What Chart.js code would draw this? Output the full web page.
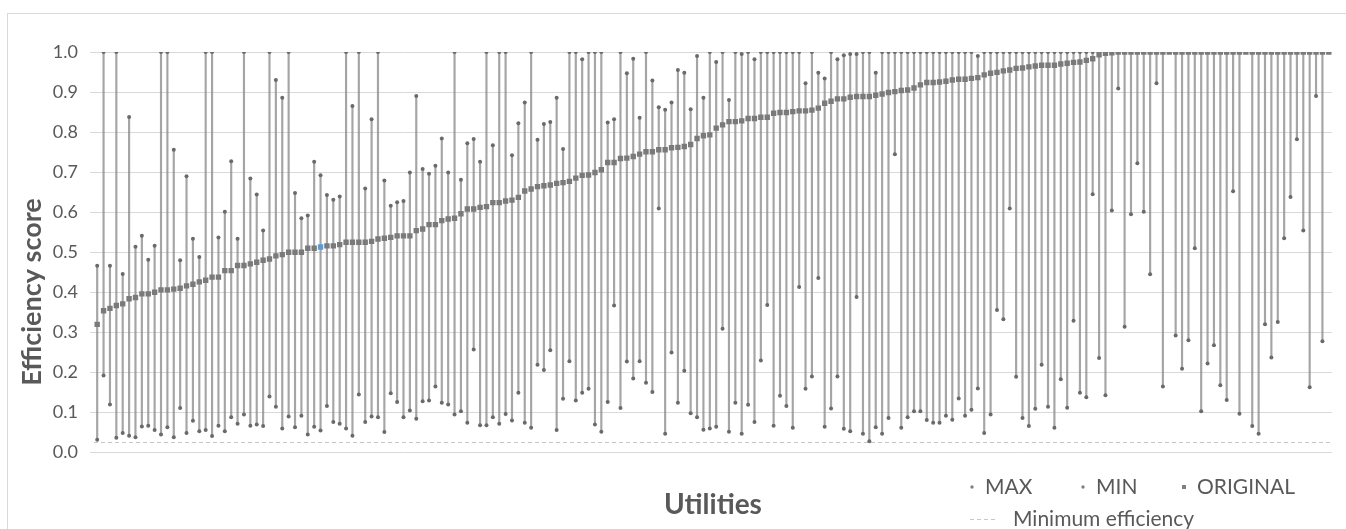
<!DOCTYPE html>
<html>
<head>
<meta charset="utf-8">
<script src="https://cdn.jsdelivr.net/npm/chart.js@4/dist/chart.umd.min.js"></script>
<style>
  html, body { margin: 0; padding: 0; background: #ffffff; }
  #wrap { position: relative; width: 1346px; height: 529px; }
</style>
</head>
<body>
<div id="wrap"><canvas id="chart" width="1346" height="529"></canvas></div>
<script>
// Efficiency scores per utility: upper bound, lower bound and original score
const maxValues = [
  0.466, 1.0, 0.466, 1.0, 0.446, 0.838, 0.514, 0.541, 0.481, 0.516,
  1.0, 1.0, 0.756, 0.48, 0.69, 0.534, 0.488, 1.0, 1.0, 0.537,
  0.601, 0.727, 0.534, 1.0, 0.684, 0.644, 0.554, 1.0, 0.93, 0.886,
  1.0, 0.648, 0.585, 0.592, 0.726, 0.692, 0.643, 0.631, 0.639, 1.0,
  0.865, 1.0, 0.659, 0.832, 1.0, 0.679, 0.616, 0.625, 0.628, 0.699,
  0.89, 0.708, 0.696, 0.716, 0.784, 0.699, 1.0, 0.681, 0.772, 0.783,
  0.726, 1.0, 0.767, 1.0, 1.0, 0.742, 0.822, 0.874, 1.0, 0.781,
  0.82, 0.825, 0.886, 0.758, 1.0, 1.0, 0.982, 1.0, 1.0, 1.0,
  0.824, 0.832, 1.0, 0.947, 0.983, 0.836, 1.0, 0.929, 0.862, 0.856,
  0.874, 0.955, 0.948, 0.857, 0.99, 0.886, 1.0, 0.975, 1.0, 0.88,
  1.0, 0.995, 1.0, 0.982, 1.0, 1.0, 1.0, 1.0, 1.0, 1.0,
  1.0, 0.922, 1.0, 0.948, 0.934, 1.0, 0.982, 0.992, 0.995, 0.995,
  1.0, 1.0, 0.948, 1.0, 1.0, 1.0, 1.0, 1.0, 1.0, 1.0,
  1.0, 1.0, 1.0, 1.0, 1.0, 1.0, 1.0, 1.0, 0.99, 1.0,
  1.0, 1.0, 1.0, 1.0, 1.0, 1.0, 1.0, 1.0, 1.0, 1.0,
  1.0, 1.0, 1.0, 1.0, 1.0, 1.0, 1.0, 1.0, 1.0, 1.0,
  1.0, 1.0, 1.0, 1.0, 1.0, 1.0, 1.0, 1.0, 1.0, 1.0,
  1.0, 1.0, 1.0, 1.0, 1.0, 1.0, 1.0, 1.0, 1.0, 1.0,
  1.0, 1.0, 1.0, 1.0, 1.0, 1.0, 1.0, 1.0, 1.0, 1.0,
  1.0, 1.0, 1.0, 1.0
];

const minValues = [
  0.032, 0.192, 0.12, 0.037, 0.049, 0.042, 0.038, 0.065, 0.067, 0.056,
  0.045, 0.063, 0.038, 0.111, 0.049, 0.079, 0.053, 0.056, 0.041, 0.067,
  0.053, 0.088, 0.072, 0.095, 0.067, 0.07, 0.066, 0.14, 0.114, 0.06,
  0.09, 0.063, 0.092, 0.045, 0.064, 0.055, 0.116, 0.076, 0.072, 0.06,
  0.042, 0.145, 0.076, 0.09, 0.088, 0.051, 0.148, 0.126, 0.088, 0.105,
  0.084, 0.128, 0.13, 0.165, 0.124, 0.12, 0.095, 0.103, 0.074, 0.257,
  0.068, 0.068, 0.088, 0.072, 0.096, 0.08, 0.149, 0.074, 0.062, 0.219,
  0.206, 0.255, 0.056, 0.134, 0.228, 0.13, 0.149, 0.159, 0.07, 0.052,
  0.126, 0.367, 0.111, 0.227, 0.185, 0.228, 0.174, 0.151, 0.609, 0.047,
  0.25, 0.124, 0.204, 0.098, 0.088, 0.057, 0.06, 0.064, 0.309, 0.052,
  0.124, 0.047, 0.119, 0.076, 0.23, 0.368, 0.067, 0.142, 0.116, 0.062,
  0.413, 0.159, 0.19, 0.436, 0.064, 0.11, 0.19, 0.059, 0.053, 0.388,
  0.047, 0.028, 0.063, 0.047, 0.086, 0.745, 0.062, 0.088, 0.103, 0.103,
  0.081, 0.074, 0.074, 0.092, 0.082, 0.135, 0.092, 0.107, 0.16, 0.049,
  0.095, 0.356, 0.333, 0.609, 0.189, 0.086, 0.066, 0.109, 0.219, 0.114,
  0.062, 0.183, 0.112, 0.329, 0.149, 0.138, 0.645, 0.236, 0.143, 0.604,
  0.909, 0.314, 0.595, 0.722, 0.601, 0.445, 0.922, 0.165, 1.0, 0.292,
  0.209, 0.28, 0.51, 0.103, 0.222, 0.268, 0.168, 0.131, 0.652, 0.097,
  1.0, 0.066, 0.047, 0.32, 0.237, 0.326, 0.535, 0.638, 0.782, 0.554,
  0.163, 0.89, 0.278, 1.0
];

const originalValues = [
  0.32, 0.354, 0.36, 0.367, 0.371, 0.384, 0.387, 0.396, 0.396, 0.40,
  0.406, 0.406, 0.408, 0.41, 0.416, 0.42, 0.426, 0.43, 0.438, 0.438,
  0.454, 0.454, 0.467, 0.467, 0.471, 0.475, 0.48, 0.483, 0.491, 0.494,
  0.5, 0.5, 0.5, 0.51, 0.51, 0.513, 0.516, 0.516, 0.519, 0.525,
  0.525, 0.525, 0.525, 0.527, 0.533, 0.535, 0.537, 0.541, 0.541, 0.541,
  0.554, 0.558, 0.569, 0.569, 0.579, 0.583, 0.585, 0.596, 0.608, 0.608,
  0.612, 0.614, 0.624, 0.624, 0.628, 0.63, 0.637, 0.653, 0.658, 0.664,
  0.666, 0.668, 0.672, 0.674, 0.677, 0.685, 0.692, 0.693, 0.699, 0.706,
  0.724, 0.724, 0.734, 0.735, 0.739, 0.745, 0.751, 0.751, 0.756, 0.756,
  0.761, 0.762, 0.764, 0.769, 0.784, 0.791, 0.793, 0.81, 0.818, 0.826,
  0.826, 0.828, 0.834, 0.834, 0.837, 0.837, 0.847, 0.849, 0.849, 0.851,
  0.853, 0.853, 0.855, 0.86, 0.872, 0.877, 0.883, 0.883, 0.887, 0.889,
  0.889, 0.889, 0.892, 0.895, 0.899, 0.901, 0.904, 0.905, 0.91, 0.918,
  0.924, 0.924, 0.925, 0.927, 0.93, 0.932, 0.932, 0.934, 0.936, 0.943,
  0.947, 0.949, 0.953, 0.955, 0.959, 0.96, 0.963, 0.965, 0.967, 0.967,
  0.967, 0.97, 0.972, 0.974, 0.975, 0.979, 0.983, 0.993, 0.997, 0.998,
  1.0, 1.0, 1.0, 1.0, 1.0, 1.0, 1.0, 1.0, 1.0, 1.0,
  1.0, 1.0, 1.0, 1.0, 1.0, 1.0, 1.0, 1.0, 1.0, 1.0,
  1.0, 1.0, 1.0, 1.0, 1.0, 1.0, 1.0, 1.0, 1.0, 1.0,
  1.0, 1.0, 1.0, 1.0
];

// One category per utility, numbered in order of the original score
const utilities = originalValues.map((_, i) => String(i + 1));

const yTicks = [0.0, 0.1, 0.2, 0.3, 0.4, 0.5, 0.6, 0.7, 0.8, 0.9, 1.0];
const minimumEfficiency = 0.025;
const highlightedUtility = 35;

const TEXT = '#595959';
const FONT = 'Lato, "Open Sans", sans-serif';

// Floating bars give the thin min-to-max range line of each utility
const ranges = minValues.map((lo, i) => [lo, maxValues[i]]);

const origColors = originalValues.map((_, i) => i === highlightedUtility ? '#5b9bd5' : '#7a7a7a');

// Frame, dashed minimum-efficiency line and the rotated value-axis title
const framePlugin = {
  id: 'frame',
  beforeDraw(chart) {
    const ctx = chart.ctx;
    ctx.save();
    ctx.fillStyle = '#ffffff';
    ctx.fillRect(0, 0, chart.width, chart.height);
    ctx.strokeStyle = '#d9d9d9';
    ctx.lineWidth = 1;
    ctx.strokeRect(7.5, 13.5, chart.width + 20, chart.height + 20);
    ctx.restore();
  },
  beforeDatasetsDraw(chart) {
    const ctx = chart.ctx;
    const y = Math.round(chart.scales.y.getPixelForValue(minimumEfficiency)) + 0.5;
    ctx.save();
    ctx.strokeStyle = '#c8c8c8';
    ctx.lineWidth = 1;
    ctx.setLineDash([4, 3]);
    ctx.beginPath();
    ctx.moveTo(chart.chartArea.left, y);
    ctx.lineTo(chart.chartArea.right, y);
    ctx.stroke();
    ctx.restore();
  },
  afterDraw(chart) {
    const ctx = chart.ctx;
    ctx.save();
    ctx.translate(32, 292);
    ctx.rotate(-Math.PI / 2);
    ctx.font = 'bold 27px ' + FONT;
    ctx.fillStyle = TEXT;
    ctx.textAlign = 'center';
    ctx.textBaseline = 'middle';
    ctx.fillText('Efficiency score', 0, 0);
    ctx.restore();
  }
};

// Two-row legend at the lower right
const legendPlugin = {
  id: 'customLegend',
  afterDraw(chart) {
    const ctx = chart.ctx;
    const ds = chart.data.datasets;
    ctx.save();
    ctx.font = '21px ' + FONT;
    ctx.textBaseline = 'middle';
    ctx.textAlign = 'left';
    const row1 = 487, row2 = 519;

    ctx.fillStyle = '#808080';
    ctx.beginPath(); ctx.arc(972, row1, 1.7, 0, Math.PI * 2); ctx.fill();
    ctx.fillStyle = TEXT;
    ctx.fillText(ds[1].label, 985, row1);

    ctx.fillStyle = '#808080';
    ctx.beginPath(); ctx.arc(1083, row1, 1.7, 0, Math.PI * 2); ctx.fill();
    ctx.fillStyle = TEXT;
    ctx.fillText(ds[2].label, 1096, row1);

    ctx.fillStyle = '#808080';
    ctx.fillRect(1182, row1 - 2, 4, 4);
    ctx.fillStyle = TEXT;
    ctx.fillText(ds[3].label, 1197, row1);

    ctx.strokeStyle = '#c8c8c8';
    ctx.lineWidth = 1;
    ctx.setLineDash([4, 3]);
    ctx.beginPath();
    ctx.moveTo(970, row2 + 0.5);
    ctx.lineTo(997, row2 + 0.5);
    ctx.stroke();
    ctx.setLineDash([]);
    ctx.fillStyle = TEXT;
    ctx.fillText('Minimum efficiency', 1013, row2);
    ctx.restore();
  }
};

new Chart(document.getElementById('chart'), {
  data: {
    labels: utilities,
    datasets: [
      {
        type: 'bar',
        label: 'Range',
        data: ranges,
        backgroundColor: 'rgba(135,135,135,0.75)',
        borderWidth: 0,
        barThickness: 1.5,
        order: 5
      },
      {
        type: 'line',
        label: 'MAX',
        data: maxValues,
        showLine: false,
        pointStyle: 'circle',
        pointRadius: 2,
        pointBorderWidth: 0,
        pointBackgroundColor: '#6a6a6a',
        order: 2
      },
      {
        type: 'line',
        label: 'MIN',
        data: minValues,
        showLine: false,
        pointStyle: 'circle',
        pointRadius: 2,
        pointBorderWidth: 0,
        pointBackgroundColor: '#6a6a6a',
        order: 2
      },
      {
        type: 'line',
        label: 'ORIGINAL',
        data: originalValues,
        showLine: false,
        pointStyle: 'rect',
        pointRadius: 3.8,
        pointBorderWidth: 0,
        pointBackgroundColor: origColors,
        order: 1
      }
    ]
  },
  options: {
    responsive: false,
    animation: false,
    events: [],
    layout: { padding: { top: 52, right: 14, left: 0, bottom: 0 } },
    plugins: {
      legend: { display: false },
      tooltip: { enabled: false }
    },
    scales: {
      x: {
        type: 'category',
        offset: true,
        grid: { display: false },
        border: { display: false },
        ticks: { display: false },
        title: {
          display: true,
          text: 'Utilities',
          color: TEXT,
          font: { family: FONT, size: 28, weight: 'bold' },
          padding: { top: 0, bottom: 7 }
        },
        afterFit(scale) { scale.height = 76.5; }
      },
      y: {
        min: 0,
        max: 1,
        afterBuildTicks(scale) { scale.ticks = yTicks.map(v => ({ value: v })); },
        ticks: {
          color: TEXT,
          font: { family: FONT, size: 18 },
          padding: 12,
          callback: v => Number(v).toFixed(1)
        },
        grid: { color: '#d9d9d9', lineWidth: 1, drawTicks: true, tickLength: 4, tickColor: '#d9d9d9' },
        border: { display: false },
        afterFit(scale) { scale.width = 94; }
      }
    }
  },
  plugins: [framePlugin, legendPlugin]
});
</script>
</body>
</html>
